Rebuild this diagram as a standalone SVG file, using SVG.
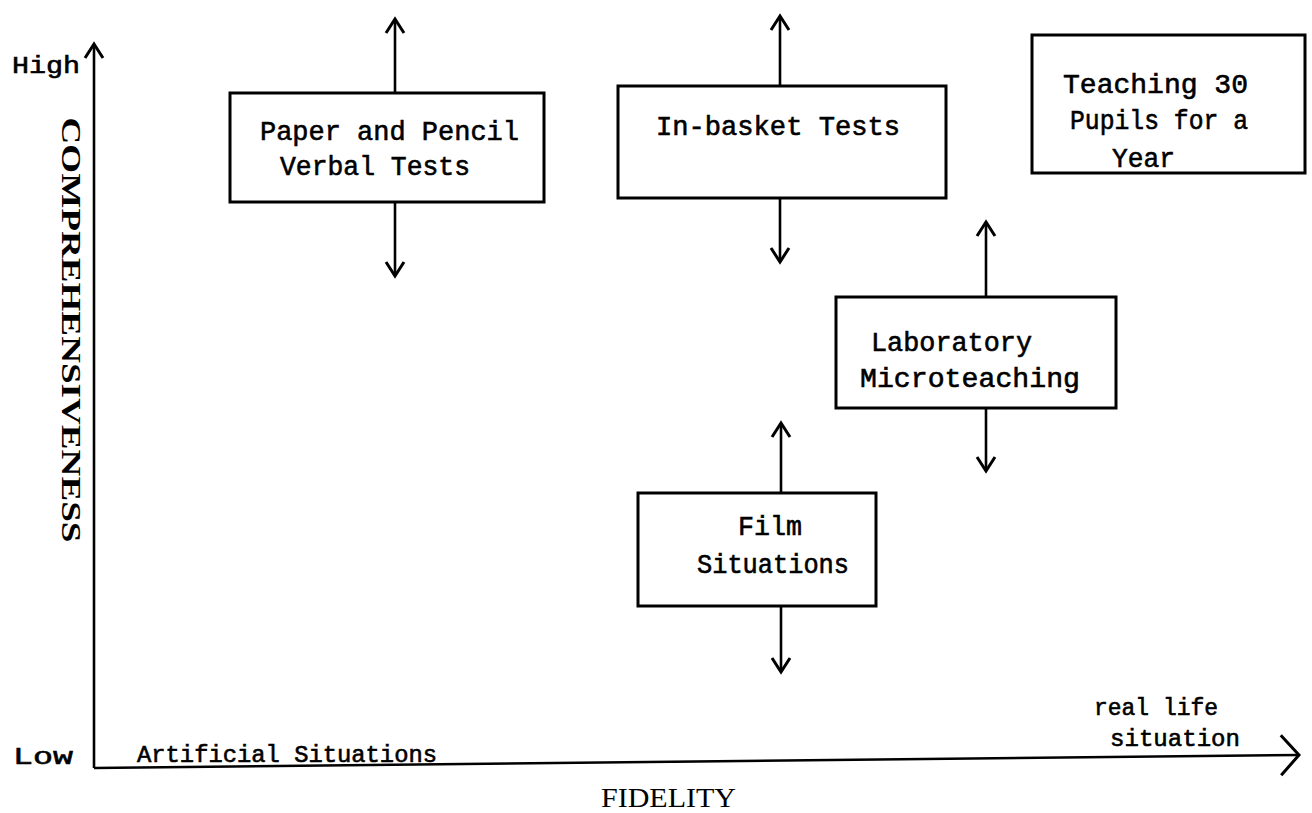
<svg xmlns="http://www.w3.org/2000/svg" width="1312" height="813" viewBox="0 0 1312 813">
<style>
.box{fill:none;stroke:#000;stroke-width:3}
.conn{stroke:#000;stroke-width:2.6;fill:none}
.lbl{font-family:"Liberation Mono","DejaVu Sans Mono",monospace;font-size:27px;fill:#000;stroke:#000;stroke-width:0.6}
.ax{font-family:"Liberation Mono","DejaVu Sans Mono",monospace;font-size:24px;fill:#000;stroke:#000;stroke-width:0.6}
.title{font-family:"Liberation Serif","DejaVu Serif",serif;font-size:27px;fill:#000}
</style>
<defs>
<marker id="ah" markerUnits="userSpaceOnUse" markerWidth="22" markerHeight="22" viewBox="0 0 22 22" refX="17" refY="11" orient="auto">
<path d="M3,2 L17,11 L3,20" fill="none" stroke="#000" stroke-width="3"/>
</marker>
<marker id="ahx" markerUnits="userSpaceOnUse" markerWidth="30" markerHeight="44" viewBox="0 0 30 44" refX="24" refY="22" orient="auto">
<path d="M6,2 L24,22 L6,42" fill="none" stroke="#000" stroke-width="3"/>
</marker>
</defs>
<rect width="1312" height="813" fill="#fff"/>

<g id="axes">
<line class="conn" x1="94" y1="768" x2="94" y2="44" stroke-width="3" marker-end="url(#ah)"/>
<line class="conn" x1="94" y1="768" x2="1299" y2="755" stroke-width="3" marker-end="url(#ahx)"/>
<text class="ax" x="12" y="73" textLength="68" lengthAdjust="spacingAndGlyphs">High</text>
<text class="ax" x="13" y="764" textLength="60" lengthAdjust="spacingAndGlyphs">Low</text>
<text class="title" transform="translate(62,330) rotate(90)" text-anchor="middle" font-weight="bold" textLength="425" lengthAdjust="spacingAndGlyphs">COMPREHENSIVENESS</text>
<text class="title" x="601" y="807" textLength="135" lengthAdjust="spacingAndGlyphs">FIDELITY</text>
<text class="ax" x="137" y="762" textLength="300" lengthAdjust="spacingAndGlyphs">Artificial Situations</text>
<text class="ax" x="1094" y="715" textLength="124" lengthAdjust="spacingAndGlyphs">real life</text>
<text class="ax" x="1110" y="746" textLength="130" lengthAdjust="spacingAndGlyphs">situation</text>
</g>

<g id="connectors">
<line class="conn" x1="395" y1="93" x2="395" y2="19" marker-end="url(#ah)"/>
<line class="conn" x1="395" y1="202" x2="395" y2="276" marker-end="url(#ah)"/>
<line class="conn" x1="780" y1="86" x2="780" y2="16" marker-end="url(#ah)"/>
<line class="conn" x1="780" y1="198" x2="780" y2="262" marker-end="url(#ah)"/>
<line class="conn" x1="986" y1="297" x2="986" y2="222" marker-end="url(#ah)"/>
<line class="conn" x1="986" y1="408" x2="986" y2="471" marker-end="url(#ah)"/>
<line class="conn" x1="781" y1="493" x2="781" y2="423" marker-end="url(#ah)"/>
<line class="conn" x1="781" y1="606" x2="781" y2="672" marker-end="url(#ah)"/>
</g>

<g id="paper-pencil">
<rect class="box" x="230" y="93" width="314" height="109"/>
<text class="lbl" x="260" y="140" textLength="259" lengthAdjust="spacingAndGlyphs">Paper and Pencil</text>
<text class="lbl" x="280" y="175" textLength="190" lengthAdjust="spacingAndGlyphs">Verbal Tests</text>
</g>

<g id="in-basket">
<rect class="box" x="618" y="86" width="328" height="112"/>
<text class="lbl" x="656" y="135" textLength="244" lengthAdjust="spacingAndGlyphs">In-basket Tests</text>
</g>

<g id="teaching">
<rect class="box" x="1032" y="35" width="273" height="138"/>
<text class="lbl" x="1063" y="93" textLength="185" lengthAdjust="spacingAndGlyphs">Teaching 30</text>
<text class="lbl" x="1070" y="129" textLength="178" lengthAdjust="spacingAndGlyphs">Pupils for a</text>
<text class="lbl" x="1112" y="167" textLength="63" lengthAdjust="spacingAndGlyphs">Year</text>
</g>

<g id="laboratory">
<rect class="box" x="836" y="297" width="280" height="111"/>
<text class="lbl" x="871" y="351" textLength="161" lengthAdjust="spacingAndGlyphs">Laboratory</text>
<text class="lbl" x="860" y="387" textLength="220" lengthAdjust="spacingAndGlyphs">Microteaching</text>
</g>

<g id="film">
<rect class="box" x="638" y="493" width="238" height="113"/>
<text class="lbl" x="738" y="535" textLength="64" lengthAdjust="spacingAndGlyphs">Film</text>
<text class="lbl" x="697" y="573" textLength="152" lengthAdjust="spacingAndGlyphs">Situations</text>
</g>
</svg>
